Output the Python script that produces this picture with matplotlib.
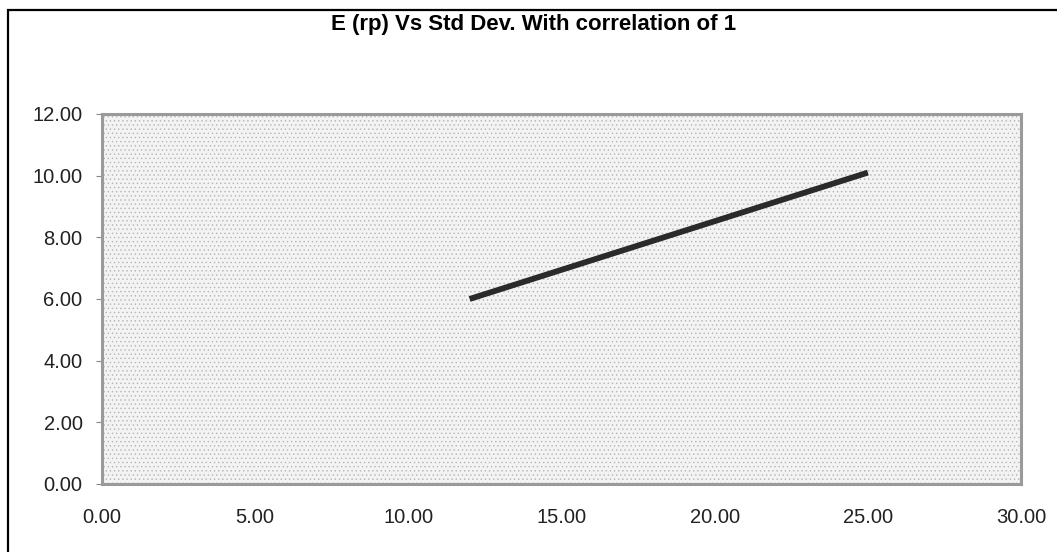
import matplotlib
matplotlib.use("Agg")
import matplotlib.pyplot as plt
from matplotlib.patches import Rectangle

# portfolio risk (std dev) vs expected return, correlation = 1
std_dev = [12.0, 25.0]
exp_ret = [6.0, 10.1]
x_ticks = [0, 5, 10, 15, 20, 25, 30]
y_ticks = [0, 2, 4, 6, 8, 10, 12]

plt.rcParams['font.family'] = ['Liberation Sans', 'DejaVu Sans']
plt.rcParams['hatch.linewidth'] = 0.5

fig = plt.figure(figsize=(10.57, 5.52), dpi=100)
ax = fig.add_axes([0.0965, 0.1232, 0.8695, 0.6703])

# outer chart border (scan crops right/bottom)
fig.patches.append(Rectangle((0.0076, -0.02), 1.1, 1.002, transform=fig.transFigure,
                             fill=False, edgecolor='black', linewidth=1.6))

ax.set_facecolor('#f3f3f3')
ax.add_patch(Rectangle((0, 0), 1, 1, transform=ax.transAxes, facecolor='none',
                       edgecolor='#b5b5b5', hatch='....', linewidth=0, zorder=0))

ax.plot(std_dev, exp_ret, color='#2a2a2a', linewidth=4.2, solid_capstyle='butt', zorder=3)

ax.set_xlim(0, 30)
ax.set_ylim(0, 12)
ax.set_xticks(x_ticks)
ax.set_yticks(y_ticks)
ax.set_xticklabels([f"{v:.2f}" for v in x_ticks])
ax.set_yticklabels([f"{v:.2f}" for v in y_ticks])
ax.tick_params(axis='x', direction='out', length=0, pad=17, labelsize=14.5, colors='#222222')
ax.tick_params(axis='y', direction='out', length=4, pad=10, labelsize=14.5,
               colors='#222222', color='#888888')
for s in ax.spines.values():
    s.set_color('#9a9a9a')
    s.set_linewidth(2.2)

fig.text(0.505, 0.955, "E (rp) Vs Std Dev. With correlation of 1", ha='center', va='center',
         fontsize=16, fontweight='bold')

fig.savefig("out.png", dpi=100)
